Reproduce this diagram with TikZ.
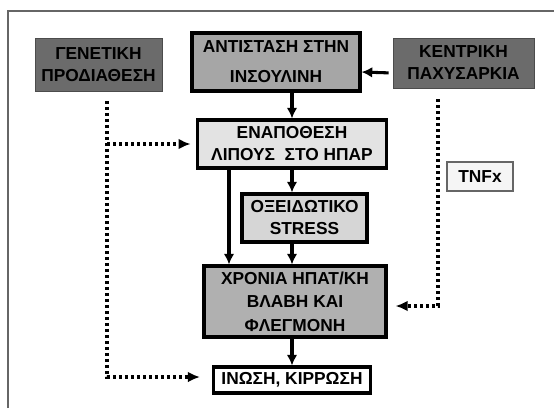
\documentclass[tikz,border=0pt]{standalone}
\usepackage{fontspec}
\setmainfont{Liberation Sans}
\usepackage{tikz}
\usetikzlibrary{arrows.meta}

\begin{document}
\begin{tikzpicture}[x=0.75pt,y=-0.75pt]

\tikzstyle{every node}=[font=\fontsize{13}{16.5}\selectfont\bfseries, align=center, inner sep=0pt]
\tikzstyle{stage}=[draw, line width=2.3pt]
\tikzstyle{cause}=[draw=black!70, line width=0.7pt, fill=black!58]
\tikzstyle{flow}=[->, >={Latex[length=8pt,width=8pt]}, line width=2.3pt]
\tikzstyle{risk}=[->, >={Latex[length=9pt,width=8pt]}, line width=2.5pt, dotted]

\useasboundingbox (0,0) rectangle (555,408);
\draw[line width=1.6pt, black!60] (8,408) -- (8,11) -- (554,11);

\pgfmathsetmacro\x{292}

\node[cause, minimum width=127*0.75pt, minimum height=53*0.75pt] (genetic) at (98.5,64.5)
{ΓΕΝΕΤΙΚΗ\\ΠΡΟΔΙΑΘΕΣΗ};

\node[stage, fill=black!35, minimum width=168*0.75pt, minimum height=58*0.75pt] (resistance) at (276,62)
{ΑΝΤΙΣΤΑΣΗ ΣΤΗΝ\\[6pt]ΙΝΣΟΥΛΙΝΗ};

\node[cause, minimum width=141*0.75pt, minimum height=50*0.75pt] (obesity) at (463.5,63)
{ΚΕΝΤΡΙΚΗ\\ΠΑΧΥΣΑΡΚΙΑ};

\draw[flow, shorten <=3pt] ([yshift=-7.5pt]obesity.west) -- ([yshift=-7.5pt]resistance.east);

\node[stage, fill=black!11, minimum width=189*0.75pt, minimum height=48*0.75pt] (fatty) at (\x,144)
{ΕΝΑΠΟΘΕΣΗ\\ΛΙΠΟΥΣ ~ΣΤΟ ΗΠΑΡ};

\draw[flow] (resistance.south -| fatty.north) -- (fatty.north);

\node[stage, fill=black!16, minimum width=125*0.75pt, minimum height=48*0.75pt] (oxidative) at (304.5,218)
{ΟΞΕΙΔΩΤΙΚΟ\\STRESS};

\draw[flow] (fatty.south) -- (fatty.south |- oxidative.north);

\node[stage, fill=black!31, minimum width=182*0.75pt, minimum height=71*0.75pt] (damage) at (295,301.5)
{ΧΡΟΝΙΑ ΗΠΑΤ/ΚΗ\\[1pt]ΒΛΑΒΗ ΚΑΙ\\[1pt]ΦΛΕΓΜΟΝΗ};

\draw[flow] (oxidative.south -| fatty.south) -- (fatty.south |- damage.north);

\coordinate (bypass) at (229,0);
\draw[flow] (fatty.south -| bypass) -- (damage.north -| bypass);

\node[stage, fill=white, minimum width=157*0.75pt, minimum height=26*0.75pt] (cirrhosis) at (\x,380)
{ΙΝΩΣΗ, ΚΙΡΡΩΣΗ};

\draw[flow] (damage.south -| fatty.south) -- (fatty.south |- cirrhosis.north);

\node[draw=black!60, line width=0.8pt, fill=black!4, minimum width=66*0.75pt, minimum height=29*0.75pt] (tnf) at (480,176.5)
{TNFx};

% dotted paths
\coordinate (gp) at (107,377);
\draw[risk, shorten >=9pt] ([yshift=-7pt]genetic.south -| gp) -- (gp) -- (cirrhosis.west |- gp);
\draw[risk, shorten >=4pt] (gp |- fatty.west) -- (fatty.west);

\coordinate (op) at (438,306);
\draw[risk, shorten >=6pt] ([yshift=-8pt]obesity.south -| op) -- (op) -- (damage.east |- op);

\end{tikzpicture}
\end{document}
